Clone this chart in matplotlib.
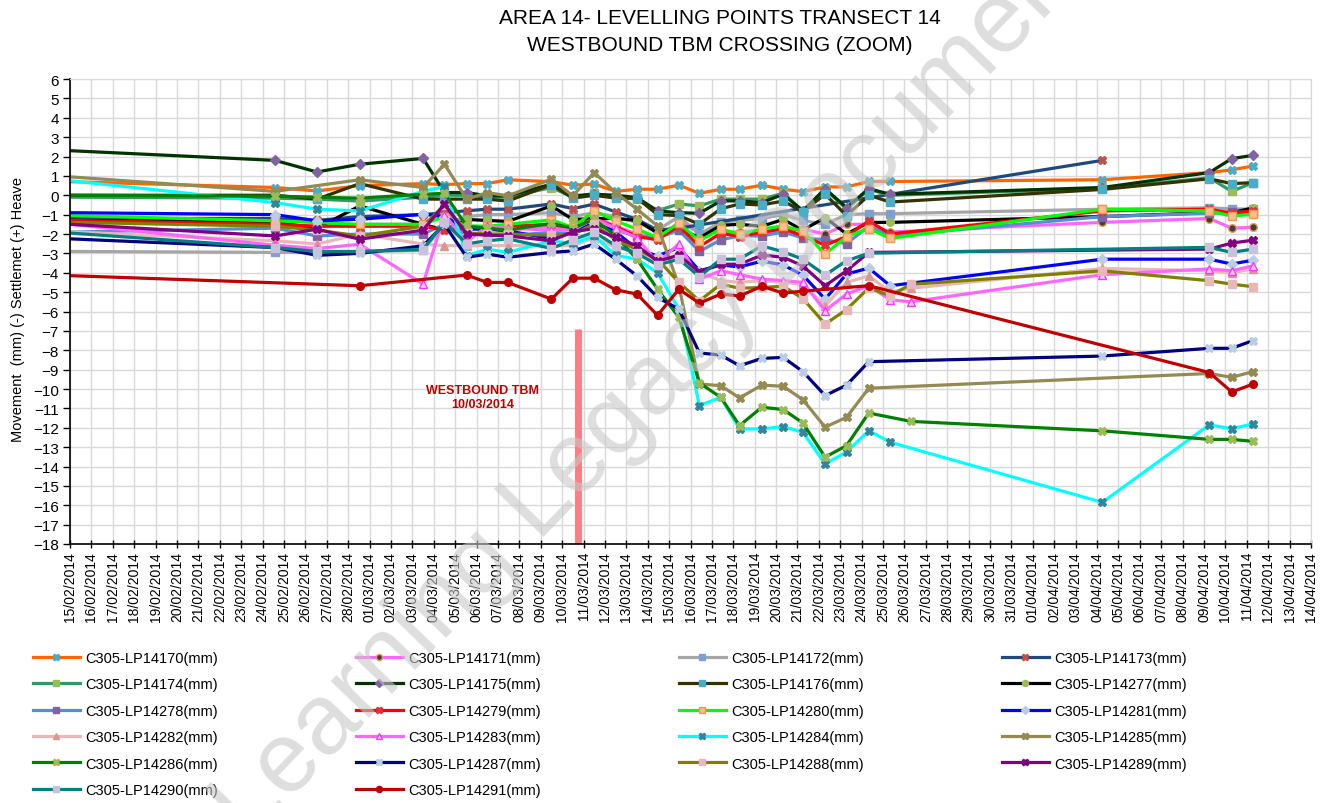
import numpy as np
import matplotlib
matplotlib.use("Agg")
import matplotlib.pyplot as plt
import matplotlib.dates as mdates
from datetime import datetime

# ----------------------------
# Data (readings in mm)
# ----------------------------
dates = [
    "2014-02-15 00:00", "2014-02-24 14:00", "2014-02-26 13:00", "2014-02-28 13:00",
    "2014-03-03 12:00", "2014-03-04 12:00", "2014-03-05 13:00", "2014-03-06 12:00",
    "2014-03-07 11:00", "2014-03-09 12:00", "2014-03-10 12:00", "2014-03-11 12:00",
    "2014-03-12 12:00", "2014-03-13 12:00", "2014-03-14 11:00", "2014-03-15 11:00",
    "2014-03-16 10:00", "2014-03-17 10:00", "2014-03-18 07:00", "2014-03-19 08:00",
    "2014-03-20 08:00", "2014-03-21 06:00", "2014-03-22 07:00", "2014-03-23 07:00",
    "2014-03-24 08:00", "2014-03-25 08:00", "2014-03-26 07:00", "2014-04-04 06:00",
    "2014-04-09 06:00", "2014-04-10 07:00", "2014-04-11 07:00",
]
N = None

lp14170 = [0.7, 0.4, 0.22, 0.5, 0.6, 0.55, 0.6, 0.6, 0.8, 0.7, 0.52, 0.58, 0.2, 0.31, 0.31, 0.52,
           0.1, 0.31, 0.31, 0.52, 0.31, 0.19, 0.43, 0.43, 0.71, 0.71, N, 0.8, 1.17, 1.31, 1.51]
lp14171 = [-1.3, -1.5, -1.6, -1.5, -1.5, -0.8, -1.7, -1.7, -1.8, -1.6, -1.8, -1.1, -1.6, -2.0, -2.2, -1.4,
           -1.9, -1.9, -1.9, -1.9, -1.9, -1.75, -2.0, -1.5, -1.5, -1.9, N, -1.4, -1.2, -1.7, -1.65]
lp14172 = [-2.9, -2.95, -2.95, -2.9, -2.85, -1.5, -1.1, -1.0, -1.0, -0.9, -1.1, -0.9, -1.1, -1.4, -1.8, -1.1,
           -2.0, -1.4, -1.3, -1.2, -1.0, -1.3, -1.5, -1.0, -0.95, -0.95, N, -0.72, -0.65, -0.7, -0.72]
lp14173 = [-1.2, -1.2, -1.3, -1.1, -1.0, -0.9, -0.8, -0.72, -0.72, -0.45, -0.69, -0.46, -0.86, -1.25, -1.8, -1.7,
           N, N, N, N, N, N, N, N, N, N, N, 1.8, N, N, N]
lp14174 = [-0.1, -0.15, -0.2, -0.3, -0.1, 0.0, 0.0, -0.1, -0.1, 0.4, -0.1, 0.1, -0.1, -0.2, -0.8, -0.45,
           -0.55, -0.2, -0.2, -0.2, 0.1, -0.8, 0.3, -0.7, 0.3, 0.0, N, 0.35, 0.9, 0.2, 0.65]
lp14175 = [2.3, 1.8, 1.2, 1.6, 1.9, 0.14, 0.14, -0.03, -0.03, 0.57, -0.03, 0.05, 0.0, -0.12, -0.81, -0.9,
           -0.93, -0.29, -0.29, -0.38, 0.05, -0.81, 0.34, -0.64, 0.34, 0.05, N, 0.4, 1.17, 1.89, 2.06]
lp14176 = [0.0, 0.0, -0.2, 0.6, -0.2, -0.2, -0.2, -0.2, -0.3, 0.55, -0.15, 0.0, -0.15, -0.15, -1.0, -1.05,
           -1.5, -0.7, -0.45, -0.5, -0.3, -0.85, 0.05, -1.05, 0.0, -0.35, N, 0.3, 0.85, 0.6, 0.65]
lp14277 = [-1.3, -1.4, -1.7, -0.55, -1.5, -1.8, -1.25, -1.3, -1.35, -0.55, -1.25, -1.2, -1.2, -1.3, -1.95, -1.7,
           -2.2, -1.55, -1.5, -1.6, -1.25, -1.8, -1.15, -2.0, -1.4, -1.4, N, -1.1, -0.9, -0.9, -0.65]
lp14278 = [-1.9, -1.7, -2.1, -2.0, -2.0, -1.5, -2.0, -2.0, -2.1, -1.9, -2.0, -1.5, -1.8, -2.1, -2.2, -1.8,
           -2.9, -2.3, -2.1, -2.1, -1.9, -2.2, -2.3, -2.5, -1.6, -2.1, N, -1.1, -0.93, -0.85, -0.9]
lp14279 = [-1.3, -1.5, -1.6, -1.6, -1.6, -1.8, -1.7, -1.7, -1.6, -1.5, -1.7, -1.2, -1.62, -2.13, -2.3, -1.58,
           -2.65, -1.96, -2.13, -1.92, -1.72, -2.1, -2.58, -2.13, -1.32, -2.0, N, -0.81, -0.72, -0.93, -0.81]
lp14280 = [-1.05, -1.32, -1.41, -1.5, -1.5, -1.1, -1.58, -1.6, -1.5, -1.27, -1.66, -0.81, -1.32, -1.75, -2.18, -1.44,
           -2.35, -1.75, -2.0, -1.75, -1.58, -1.85, -3.04, -2.13, -1.72, -2.23, N, -0.72, -0.81, -1.07, -0.98]
lp14281 = [-0.9, -1.0, -1.32, -1.24, -0.98, -1.1, -1.75, -1.75, -1.84, -2.24, -1.92, -1.41, -1.89, -2.78, -3.13, -2.7,
           -3.9, -3.6, -3.7, -3.4, -3.6, -4.12, -5.36, -4.07, -3.76, -4.67, N, -3.3, -3.3, -3.55, -3.35]
lp14282 = [-1.89, -2.35, -2.52, -2.0, -2.52, -2.6, -2.6, -2.6, -2.6, -2.6, -2.6, -2.2, -2.7, -2.9, -3.5, -3.0,
           -4.0, -4.4, -4.5, -4.4, -4.5, -4.6, -5.7, -4.5, -4.16, -5.0, -4.8, -3.78, -3.9, -4.0, -3.8]
lp14283 = [-1.5, -2.58, -2.75, -2.53, -4.59, -1.0, -2.4, -1.6, -1.7, -1.8, -1.8, -1.2, -1.7, -2.2, -3.5, -2.5,
           -4.33, -3.9, -4.1, -4.33, -4.4, -4.5, -5.96, -5.1, -4.67, -5.4, -5.5, -4.1, -3.8, -3.9, -3.64]
lp14284 = [0.75, -0.38, -0.72, -0.81, 0.2, 0.45, -3.13, -2.78, -2.95, -2.35, -2.5, -2.1, -3.1, -3.3, -4.0, -5.88,
           -10.86, -10.43, -12.06, -12.06, -11.94, -12.23, -13.86, -13.26, -12.15, -12.75, N, -15.85, -11.85, -12.05, -11.8]
lp14285 = [0.95, 0.2, N, 0.8, 0.4, 1.6, -0.2, 0.14, -0.03, 0.83, -0.03, 1.17, 0.14, -0.72, -1.58, -4.67,
           -9.74, -9.83, -10.46, -9.8, -9.86, -10.55, -11.97, -11.46, -9.96, N, N, N, -9.2, -9.4, -9.1]
lp14286 = [0.0, -0.05, -0.1, -0.15, 0.05, 0.1, -1.6, -1.7, -1.8, -1.45, -1.7, -1.24, -2.1, -3.3, -4.85, -6.3,
           -9.69, -10.43, -11.89, -10.94, -11.06, -11.75, -13.52, -12.92, -11.24, N, -11.67, -12.16, -12.6, -12.6, -12.7]
lp14287 = [-2.25, -2.7, -3.1, -3.0, -2.61, -1.5, -3.2, -3.04, -3.2, -2.95, -2.87, -2.52, -3.3, -4.16, -5.27, -5.88,
           -8.14, -8.25, -8.8, -8.42, -8.37, -9.1, -10.34, -9.8, -8.59, N, N, -8.3, -7.9, -7.9, -7.5]
lp14288 = [-1.4, -1.6, -1.8, -2.1, -1.6, -0.5, -1.95, -2.0, -2.0, -2.06, -2.0, -1.5, -2.3, -2.8, -3.3, -4.5,
           -5.45, -4.59, -4.8, -4.76, -4.7, -5.33, -6.65, -5.9, -4.78, -5.19, -4.6, -3.9, -4.41, -4.59, -4.72]
lp14289 = [-1.5, -2.1, -1.75, -2.27, -1.8, -0.46, -2.0, -2.06, -2.1, -2.35, -1.89, -1.72, -2.18, -2.61, -3.4, -3.1,
           -3.95, -3.56, -3.56, -3.09, -3.2, -3.65, -4.67, -3.9, -2.95, N, N, N, -2.78, -2.47, -2.32]
lp14290 = [-1.95, -2.7, -2.9, -2.9, -2.8, -1.4, -2.5, -2.35, -2.25, -2.75, -2.3, -1.9, -2.6, -3.0, -3.6, -3.3,
           -4.2, -3.3, -3.3, -2.61, -2.92, -3.3, -4.12, -3.38, -2.99, N, N, N, -2.69, -2.95, -2.78]
lp14291 = [-4.15, N, N, -4.67, N, N, -4.12, -4.5, -4.5, -5.36, -4.28, -4.28, -4.88, -5.1, -6.2, -4.85,
           -5.57, -5.1, -5.2, -4.7, -5.05, -4.95, N, N, -4.67, N, N, N, -9.15, -10.15, -9.75]

labels = ["C305-LP14170(mm)", "C305-LP14171(mm)", "C305-LP14172(mm)", "C305-LP14173(mm)",
          "C305-LP14174(mm)", "C305-LP14175(mm)", "C305-LP14176(mm)", "C305-LP14277(mm)",
          "C305-LP14278(mm)", "C305-LP14279(mm)", "C305-LP14280(mm)", "C305-LP14281(mm)",
          "C305-LP14282(mm)", "C305-LP14283(mm)", "C305-LP14284(mm)", "C305-LP14285(mm)",
          "C305-LP14286(mm)", "C305-LP14287(mm)", "C305-LP14288(mm)", "C305-LP14289(mm)",
          "C305-LP14290(mm)", "C305-LP14291(mm)"]
series = [lp14170, lp14171, lp14172, lp14173, lp14174, lp14175, lp14176, lp14277,
          lp14278, lp14279, lp14280, lp14281, lp14282, lp14283, lp14284, lp14285,
          lp14286, lp14287, lp14288, lp14289, lp14290, lp14291]

tbm_date = "2014-03-10 18:00"
tbm_label = "WESTBOUND TBM\n10/03/2014"

# ----------------------------
# Styles: (line colour, marker, marker face, marker edge)
# ----------------------------
styles = [
    ("#FF6600", "X", "#4BACC6", "#4BACC6"),
    ("#FF66FF", "o", "#3F3F3F", "#F79646"),
    ("#A6A6A6", "s", "#7F9FCF", "#7F9FCF"),
    ("#1F497D", "X", "#C0504D", "#C0504D"),
    ("#339966", "s", "#9BBB59", "#9BBB59"),
    ("#003300", "D", "#8064A2", "#8064A2"),
    ("#333300", "s", "#4BACC6", "#4BACC6"),
    ("#000000", "o", "#9BBB59", "#9BBB59"),
    ("#558ED5", "s", "#8064A2", "#8064A2"),
    ("#FF0000", "X", "#E0303A", "#E0303A"),
    ("#00FF00", "s", "#FAC090", "#F79646"),
    ("#0000FF", "D", "#B9CDE5", "#B9CDE5"),
    ("#E6B9B8", "^", "#D99694", "#D99694"),
    ("#FF66FF", "^", "#FFD0FF", "#FF33FF"),
    ("#00FFFF", "X", "#31859C", "#31859C"),
    ("#948A54", "X", "#948A54", "#948A54"),
    ("#008000", "X", "#9BBB59", "#9BBB59"),
    ("#000080", "X", "#B9CDE5", "#B9CDE5"),
    ("#808000", "s", "#E6B9B8", "#E6B9B8"),
    ("#800080", "X", "#800080", "#800080"),
    ("#008080", "s", "#CCC1DA", "#CCC1DA"),
    ("#C00000", "o", "#C00000", "#C00000"),
]

plt.rcParams["font.family"] = ["Liberation Sans", "DejaVu Sans"]

x_all = np.array([datetime.strptime(d, "%Y-%m-%d %H:%M") for d in dates])

fig = plt.figure(figsize=(13.2, 8.04), dpi=100)
ax = fig.add_axes([70 / 1320, 1 - 545 / 804, (1311 - 70) / 1320, (545 - 80) / 804])

handles = []
for vals, (lc, mk, mfc, mec), lab in zip(series, styles, labels):
    v = np.array([np.nan if a is None else a for a in vals], float)
    ok = np.isfinite(v)
    xs, ys = x_all[ok], v[ok]
    start = 1 if ok[0] else 0   # first reading sits on the axis edge, no marker
    ln, = ax.plot(xs, ys, color=lc, lw=2.3, marker=mk, markersize=5.5,
                  markerfacecolor=mfc, markeredgecolor=mec, markeredgewidth=1.0,
                  markevery=list(range(start, len(xs))), label=lab)
    handles.append(ln)

# TBM crossing marker
tbm = datetime.strptime(tbm_date, "%Y-%m-%d %H:%M")
ax.plot([tbm, tbm], [-6.9, -18], color="#FF7C80", lw=5, solid_capstyle="butt", zorder=1)
ax.text(datetime(2014, 3, 6, 7), -10.4, tbm_label, color="#C00000", fontsize=9,
        fontweight="bold", ha="center", va="center", linespacing=1.2)

# axes
ax.set_xlim(datetime(2014, 2, 15), datetime(2014, 4, 14))
ax.set_ylim(-18, 6)
ax.set_yticks(np.arange(-18, 7, 1))
ax.xaxis.set_major_locator(mdates.DayLocator())
ax.xaxis.set_major_formatter(mdates.DateFormatter("%d/%m/%Y"))
ax.tick_params(axis="x", labelrotation=90, labelsize=10, direction="inout", length=6, width=1, pad=2)
ax.tick_params(axis="y", labelsize=11, direction="out", length=5, width=1, pad=3)
ax.grid(True, color="#D9D9D9", lw=1)
ax.set_axisbelow(True)
for side in ("top", "right"):
    ax.spines[side].set_color("#D9D9D9")
for side in ("left", "bottom"):
    ax.spines[side].set_color("black")
    ax.spines[side].set_linewidth(1.2)

fig.text(18 / 1320, 1 - 310 / 804, "Movement  (mm) (-) Settlemet (+) Heave", rotation=90,
         ha="center", va="center", fontsize=10.5)
fig.text(720 / 1320, 1 - 32 / 804, "AREA 14- LEVELLING POINTS TRANSECT 14\nWESTBOUND TBM CROSSING (ZOOM)",
         ha="center", va="center", fontsize=15, linespacing=1.55)

# legend: 4 columns, filled row by row
order = [0, 4, 8, 12, 16, 20, 1, 5, 9, 13, 17, 21, 2, 6, 10, 14, 18, 3, 7, 11, 15, 19]
leg = fig.legend([handles[i] for i in order], [labels[i] for i in order], ncol=4,
                 loc="upper left", bbox_to_anchor=(33 / 1320, 1 - 652 / 804), frameon=False,
                 fontsize=10.5, handlelength=3.2, handletextpad=0.4, columnspacing=9.45,
                 labelspacing=0.85, borderpad=0, borderaxespad=0, markerscale=0.8)

# watermark
fig.text(655 / 1320, 1 - 385 / 804, "Learning Legacy Document", rotation=46, ha="center",
         va="center", fontsize=72, color="#C8C8C8", alpha=0.6, zorder=20)

fig.savefig("out.png", dpi=100)
